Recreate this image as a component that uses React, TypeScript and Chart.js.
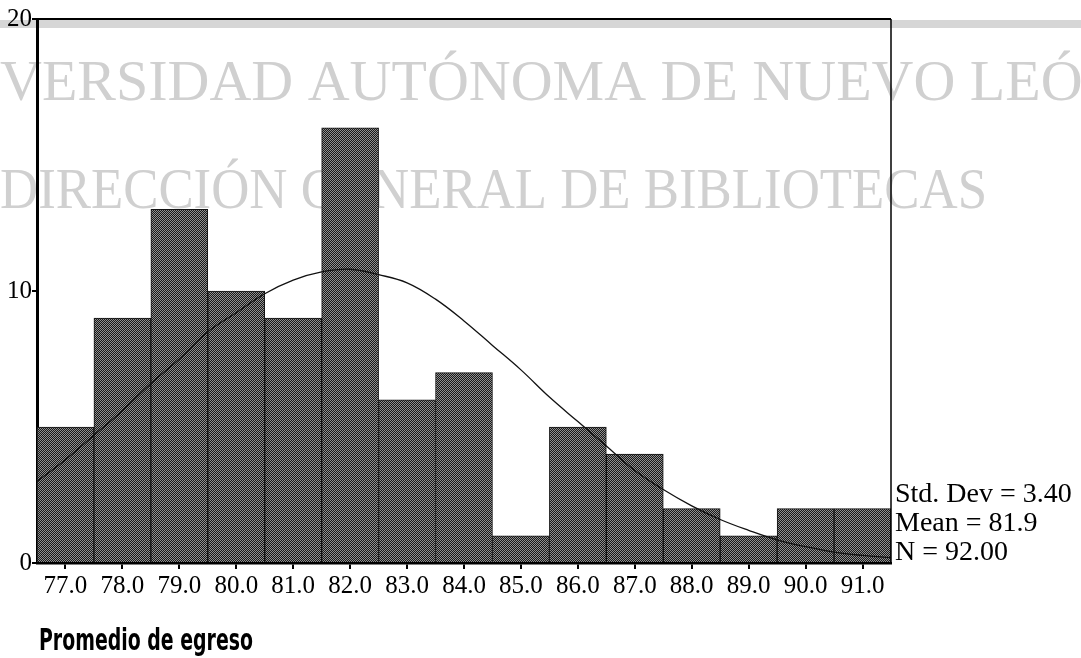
import React, { useEffect, useRef } from "react";
import { Chart, registerables } from "chart.js";

Chart.register(...registerables);

const categories = ["77.0", "78.0", "79.0", "80.0", "81.0", "82.0", "83.0", "84.0", "85.0", "86.0", "87.0", "88.0", "89.0", "90.0", "91.0"];
const counts = [5, 9, 13, 10, 9, 16, 6, 7, 1, 5, 4, 2, 1, 2, 2];
const curveX = [76.5, 77, 77.5, 78, 78.5, 79, 79.5, 80, 80.5, 81, 81.5, 82, 82.5, 83, 83.5, 84, 84.5, 85, 85.5, 86, 86.5, 87, 87.5, 88, 88.5, 89, 89.5, 90, 90.5, 91, 91.5];
const curveY = [3.0, 3.8, 4.7, 5.6, 6.6, 7.5, 8.5, 9.2, 9.9, 10.4, 10.7, 10.8, 10.6, 10.3, 9.7, 8.9, 8.0, 7.1, 6.1, 5.2, 4.3, 3.4, 2.7, 2.1, 1.6, 1.2, 0.85, 0.6, 0.4, 0.28, 0.2];
const yMin = 0;
const yMax = 20;
const yStep = 10;
const statsLines = ["Std. Dev = 3.40", "Mean = 81.9", "N = 92.00"];
const axisTitle = "Promedio de egreso";
const watermarkLine1 = "VERSIDAD AUTÓNOMA DE NUEVO LEÓN";
const watermarkLine2 = "DIRECCIÓN GENERAL DE BIBLIOTECAS";

const SERIF = "'Liberation Serif', 'Times New Roman', serif";
const NARROW = "'Liberation Sans Narrow', 'Arial Narrow', 'DejaVu Sans Condensed', sans-serif";

export default function App() {
  const ref = useRef<HTMLCanvasElement>(null);

  useEffect(() => {
    const canvas = ref.current!;
    const tile = document.createElement("canvas");
    tile.width = 2;
    tile.height = 2;
    const tctx = tile.getContext("2d")!;
    tctx.fillStyle = "#181818";
    tctx.fillRect(0, 0, 2, 2);
    tctx.fillStyle = "#909090";
    tctx.fillRect(0, 0, 1, 1);
    tctx.fillRect(1, 1, 1, 1);
    const ctx0 = canvas.getContext("2d")!;
    const pattern = ctx0.createPattern(tile, "repeat")!;

    const watermark = {
      id: "watermark",
      beforeDraw(chart: any) {
        const ctx = chart.ctx;
        ctx.save();
        ctx.fillStyle = "#d6d6d6";
        ctx.fillRect(0, 20, chart.width, 8);
        ctx.fillStyle = "#d0d0d0";
        ctx.textBaseline = "alphabetic";
        ctx.textAlign = "left";
        ctx.font = `58px ${SERIF}`;
        ctx.fillText(watermarkLine1, 0, 100);
        ctx.font = `57px ${SERIF}`;
        ctx.fillText(watermarkLine2, 0, 208, 987);
        ctx.restore();
      },
      afterDraw(chart: any) {
        const ctx = chart.ctx;
        const a = chart.chartArea;
        ctx.save();
        ctx.strokeStyle = "#000";
        ctx.lineWidth = 2;
        ctx.beginPath();
        ctx.moveTo(a.left, a.top);
        ctx.lineTo(a.right, a.top);
        ctx.stroke();
        ctx.lineWidth = 1.5;
        ctx.beginPath();
        ctx.moveTo(a.right, a.top);
        ctx.lineTo(a.right, a.bottom);
        ctx.stroke();
        ctx.fillStyle = "#000";
        ctx.textAlign = "left";
        ctx.textBaseline = "alphabetic";
        ctx.font = `28px ${SERIF}`;
        statsLines.forEach((t, i) => ctx.fillText(t, 895, 502 + i * 29));
        ctx.font = `bold 31px ${NARROW}`;
        ctx.fillText(axisTitle, 39, 650, 214);
        ctx.restore();
      },
    };

    const chart = new Chart(canvas, {
      type: "bar",
      data: {
        labels: categories,
        datasets: [
          {
            type: "line",
            data: curveX.map((x, i) => ({ x, y: curveY[i] })),
            xAxisID: "xc",
            yAxisID: "y",
            borderColor: "#111",
            borderWidth: 1.3,
            pointRadius: 0,
            tension: 0.4,
            fill: false,
            order: 0,
          } as any,
          {
            type: "bar",
            data: counts,
            xAxisID: "x",
            yAxisID: "y",
            backgroundColor: pattern as any,
            borderColor: "#111",
            borderWidth: 1,
            barPercentage: 1,
            categoryPercentage: 1,
            grouped: false,
            order: 1,
          } as any,
        ],
      },
      options: {
        animation: false,
        responsive: false,
        maintainAspectRatio: false,
        layout: { padding: { top: 19, right: 190, left: 0, bottom: 0 } },
        plugins: { legend: { display: false }, tooltip: { enabled: false } },
        scales: {
          x: {
            type: "category",
            offset: true,
            grid: { display: true, drawOnChartArea: false, drawTicks: true, tickLength: 6, color: "#000", lineWidth: 2, offset: false },
            border: { display: true, color: "#000", width: 2.5 },
            ticks: { font: { family: SERIF, size: 25 }, color: "#000", padding: 2, maxRotation: 0, autoSkip: false },
            afterFit: (s: any) => { s.height = 95; },
          },
          xc: { type: "linear", min: 76.5, max: 91.5, offset: false, grid: { offset: false }, display: false },
          y: {
            min: yMin,
            max: yMax,
            ticks: { stepSize: yStep, font: { family: SERIF, size: 25 }, color: "#000", padding: 0 },
            grid: { display: true, drawOnChartArea: false, drawTicks: true, tickLength: 5, color: "#000", lineWidth: 2 },
            border: { display: true, color: "#000", width: 3 },
            afterFit: (s: any) => { s.width = 37; },
          },
        },
      } as any,
      plugins: [watermark],
    });
    return () => chart.destroy();
  }, []);

  return (
    <div style={{ position: "fixed", left: 0, top: 0, width: 1081, height: 658, background: "#fff" }}>
      <canvas ref={ref} width={1081} height={658} style={{ width: 1081, height: 658, display: "block" }} />
    </div>
  );
}
